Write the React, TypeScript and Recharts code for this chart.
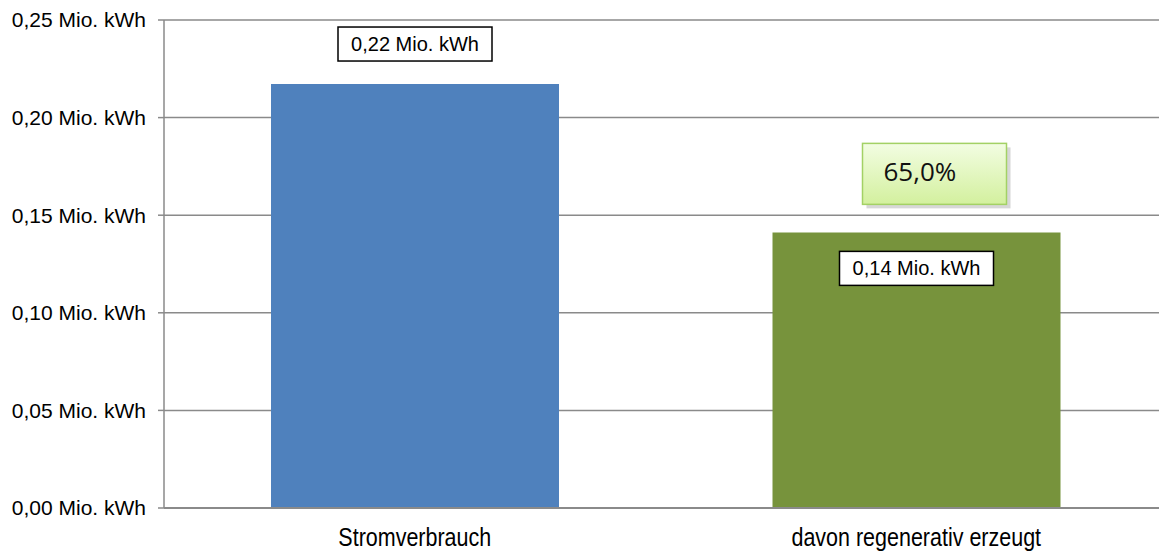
import React from 'react'
import { BarChart, Bar, XAxis, YAxis, CartesianGrid, Cell, LabelList } from 'recharts';

const categories = ['Stromverbrauch', 'davon regenerativ erzeugt'];
const values = [0.2172, 0.1412];
const valueLabels = ['0,22 Mio. kWh', '0,14 Mio. kWh'];
const barColors = ['#4f81bd', '#77933c'];
const yTicks = [0, 0.05, 0.1, 0.15, 0.2, 0.25];
const shareLabel = '65,0%';

const data = categories.map((name, i) => ({ name, value: values[i], label: valueLabels[i] }));

const axisGray = '#8a8a8a';
const font = "'Liberation Sans', Arial, sans-serif";

const formatTick = (v: number) => v.toFixed(2).replace('.', ',') + ' Mio. kWh';

// category labels in the original are a narrow face, so squeeze them a bit
const CategoryTick = (props: any) => {
  const { x, y, payload } = props;
  return (
    <g transform={`translate(${x},${y})`}>
      <text transform="scale(0.86,1)" y={38} textAnchor="middle" fontSize={25} fontFamily={font} fill="#000">
        {payload.value}
      </text>
    </g>
  );
};

const ValueLabel = (props: any) => {
  const { x, y, width, index } = props;
  const cx = x + width / 2;
  const boxW = 154;
  const boxH = 34;
  // first label sits above the bar, second one inside it
  const cy = index === 0 ? y - 40 : y + 36;
  return (
    <g>
      <rect x={cx - boxW / 2} y={cy - boxH / 2} width={boxW} height={boxH} fill="#fff" stroke="#000" strokeWidth={1.5} />
      <text x={cx} y={cy + 7} textAnchor="middle" fontSize={20} fontFamily={font} fill="#000">
        {valueLabels[index]}
      </text>
      {index === 1 && (
        <g>
          <defs>
            <linearGradient id="shareFill" x1="0" y1="0" x2="0" y2="1">
              <stop offset="0%" stopColor="#f2fde2" />
              <stop offset="100%" stopColor="#d3f09e" />
            </linearGradient>
          </defs>
          <rect x={cx - 54 + 4} y={y - 89 + 4} width={144} height={61} fill="#bdbdbd" opacity={0.6} />
          <rect x={cx - 54} y={y - 89} width={144} height={61} fill="url(#shareFill)" stroke="#a3d165" strokeWidth={1.5} />
          <text x={cx - 33} y={y - 51} fontSize={26} fontFamily="'Open Sans', sans-serif" fill="#111">
            {shareLabel}
          </text>
        </g>
      )}
    </g>
  );
};

const App = () => {
  return (
    <div style={{ marginTop: -8, marginLeft: -8, width: 1167, height: 557, background: '#fff' }}>
      <BarChart width={1167} height={557} data={data} margin={{ top: 20, right: 0, left: 0, bottom: 0 }}>
        <CartesianGrid vertical={false} stroke={axisGray} strokeWidth={1.5} />
        <XAxis
          dataKey="name"
          height={49}
          tickLine={false}
          tickSize={0}
          tickMargin={0}
          axisLine={{ stroke: axisGray, strokeWidth: 2 }}
          tick={<CategoryTick />}
        />
        <YAxis
          domain={[0, 0.25]}
          ticks={yTicks}
          tickFormatter={formatTick}
          width={164}
          tickSize={6}
          tickMargin={12}
          axisLine={{ stroke: axisGray, strokeWidth: 1.5 }}
          tickLine={{ stroke: axisGray, strokeWidth: 1.5 }}
          tick={{ fontSize: 21, fill: '#000', fontFamily: font }}
        />
        <Bar dataKey="value" barSize={288} isAnimationActive={false}>
          {data.map((d, i) => (
            <Cell key={d.name} fill={barColors[i]} />
          ))}
          <LabelList dataKey="label" content={<ValueLabel />} />
        </Bar>
      </BarChart>
    </div>
  );
};

export default App
